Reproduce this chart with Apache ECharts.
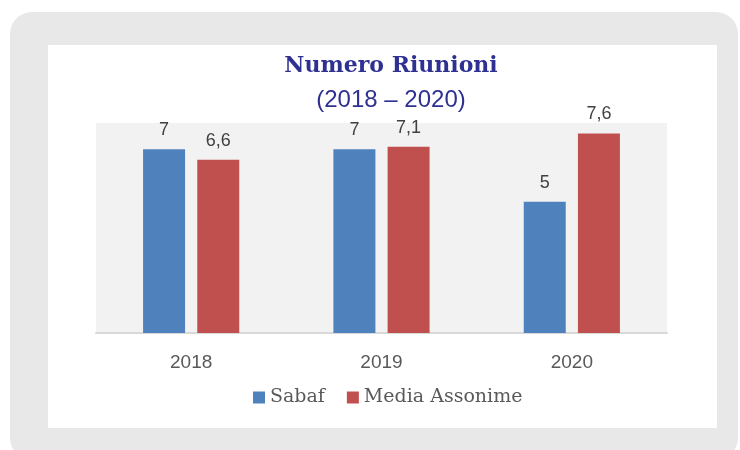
<!DOCTYPE html>
<html><head><meta charset="utf-8">
<script src="https://cdn.jsdelivr.net/npm/echarts@6/dist/echarts.min.js"></script>
<style>html,body{margin:0;padding:0;background:#fff}#c{width:740px;height:450px}</style>
</head><body><div id="c"></div>
<script>
const categories = ['2018', '2019', '2020'];
const sabaf = [7, 7, 5];
const assonime = [6.6, 7.1, 7.6];
const seriesNames = ['Sabaf', 'Media Assonime'];

const chart = echarts.init(document.getElementById('c'), null, {renderer: 'canvas'});
const fmt = p => String(p.value).replace('.', ',');
const lbl = {show: true, position: 'top', distance: 10, formatter: fmt, fontFamily: 'Liberation Sans', fontSize: 18, color: '#404040'};
chart.setOption({
  animation: false,
  graphic: [
    {type: 'rect', z: -10, shape: {x: 10, y: 12, width: 728, height: 448, r: 22}, style: {fill: '#e8e8e8'}},
    {type: 'rect', z: -9, shape: {x: 48, y: 45, width: 669, height: 383}, style: {fill: '#ffffff'}},
    {type: 'text', z: 10, x: 391, y: 55, style: {text: 'Numero Riunioni', font: 'bold 22px "DejaVu Serif"', fill: '#2e3192', textAlign: 'center'}},
    {type: 'text', z: 10, x: 391, y: 88, style: {text: '(2018 – 2020)', font: '24px "Liberation Sans"', fill: '#2e3192', textAlign: 'center'}}
  ],
  grid: {left: 96, right: 73, top: 123, bottom: 117, show: true, backgroundColor: '#f2f2f2', borderWidth: 0},
  legend: {
    data: seriesNames, top: 383, left: 248, itemWidth: 12, itemHeight: 12, itemGap: 22,
    icon: 'rect',
    textStyle: {fontFamily: 'DejaVu Serif', fontSize: 19, color: '#595959'}
  },
  xAxis: {
    type: 'category', data: categories,
    axisLine: {lineStyle: {color: '#d9d9d9', width: 2}},
    axisTick: {show: false},
    axisLabel: {fontFamily: 'Liberation Sans', fontSize: 19, color: '#595959', margin: 20}
  },
  yAxis: {type: 'value', min: 0, max: 8, show: false, splitLine: {show: false}},
  series: [
    {name: seriesNames[0], type: 'bar', data: sabaf, barWidth: 42, barGap: '29%',
     itemStyle: {color: '#4f81bd'}, label: lbl},
    {name: seriesNames[1], type: 'bar', data: assonime, barWidth: 42,
     itemStyle: {color: '#c0504d'}, label: lbl}
  ]
});
</script></body></html>
